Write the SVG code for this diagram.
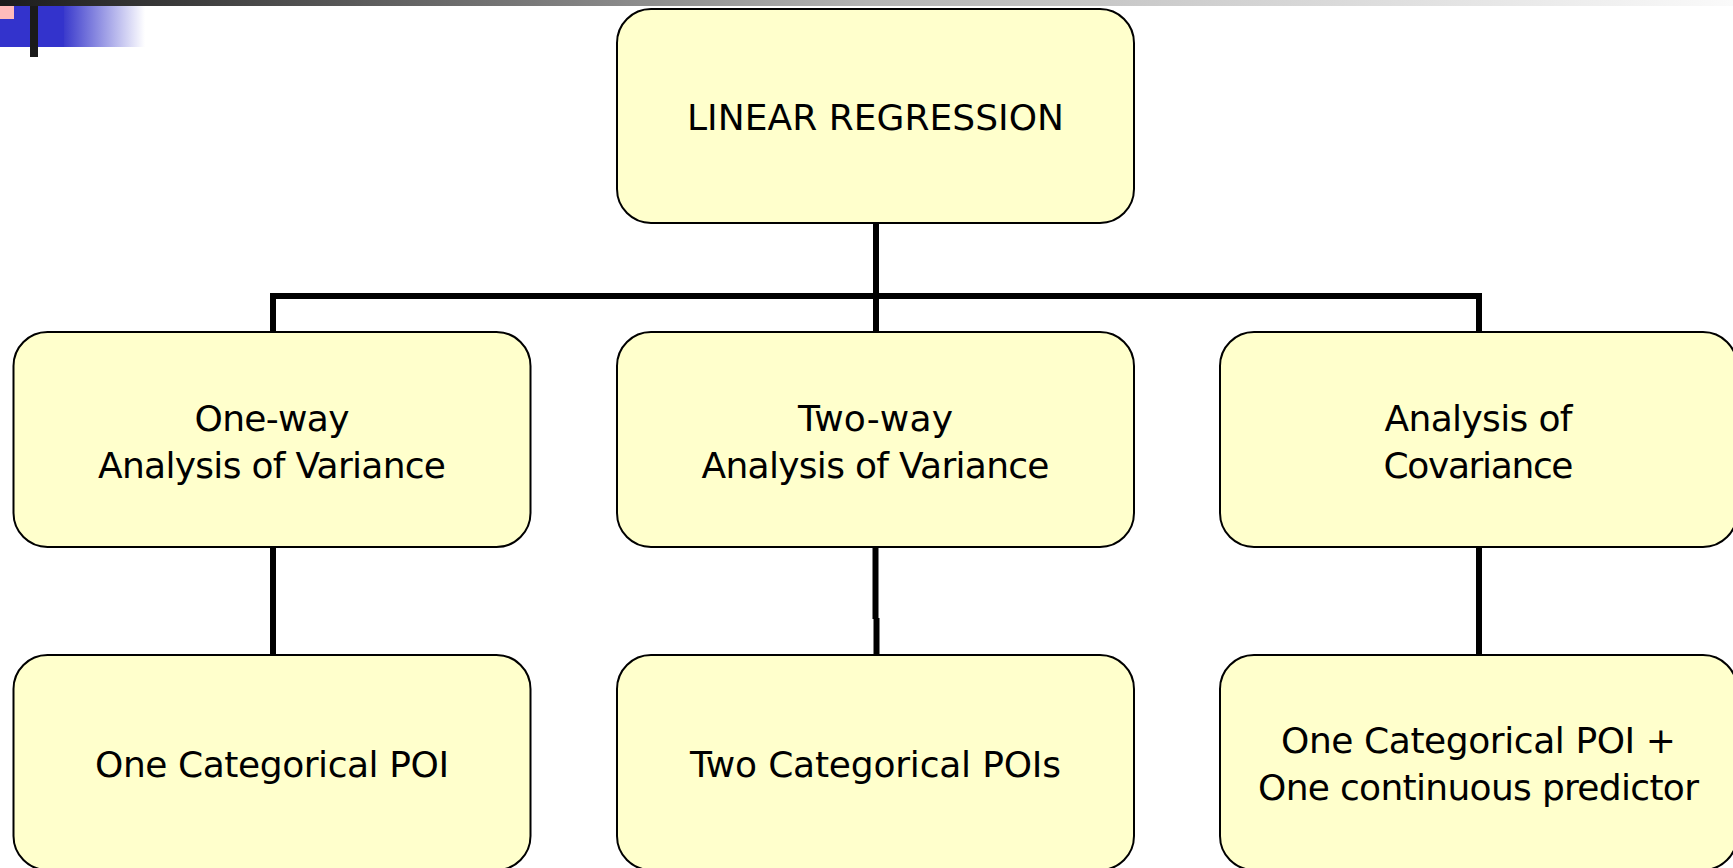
<svg xmlns="http://www.w3.org/2000/svg" width="1733" height="868" viewBox="0 0 1733 868">
  <defs>
    <linearGradient id="topBar" x1="0" y1="0" x2="1" y2="0">
      <stop offset="0" stop-color="#1c1c1c"/>
      <stop offset="0.5" stop-color="#b4b4b4"/>
      <stop offset="1" stop-color="#fafafa"/>
    </linearGradient>
    <linearGradient id="blueFade" x1="0" y1="0" x2="1" y2="0">
      <stop offset="0" stop-color="#3a3acc"/>
      <stop offset="1" stop-color="#ffffff"/>
    </linearGradient>
    <style>
      .box { fill: #ffffcc; stroke: #000; stroke-width: 2; }
      .label { font-family: "DejaVu Sans", Verdana, sans-serif; font-size: 36px; fill: #000; text-anchor: middle; }
      .wire { fill: none; stroke: #000; stroke-width: 6; stroke-linecap: butt; stroke-linejoin: miter; }
    </style>
  </defs>

  <rect width="1733" height="868" fill="#ffffff"/>

  <!-- slide header decoration -->
  <g id="header">
    <rect x="0" y="0" width="1733" height="6" fill="url(#topBar)"/>
    <rect x="0" y="6" width="64" height="41" fill="#3333cc"/>
    <rect x="64" y="6" width="81" height="41" fill="url(#blueFade)"/>
    <rect x="0" y="6" width="14" height="13" fill="#ffbbbb"/>
    <rect x="30" y="6" width="8" height="51" fill="#1a1a1a"/>
  </g>

  <!-- tree connectors -->
  <g id="connectors">
    <path class="wire" d="M876 223 V296"/>
    <path class="wire" d="M273 332 V296 H1479 V332"/>
    <path class="wire" d="M876 296 V332"/>
    <path class="wire" d="M273 547 V655"/>
    <path class="wire" d="M875.5 547 V619"/>
    <path class="wire" d="M876.5 618 V655"/>
    <path class="wire" d="M1479 547 V655"/>
  </g>

  <g id="linear-regression">
    <rect class="box" x="617" y="9" width="517" height="214" rx="34"/>
    <text class="label" x="875.5" y="130" textLength="377">LINEAR REGRESSION</text>
  </g>

  <g id="one-way-anova">
    <rect class="box" x="13.5" y="332" width="517" height="215" rx="34"/>
    <text class="label" x="272" y="431" textLength="155">One-way</text>
    <text class="label" x="272" y="478" textLength="348">Analysis of Variance</text>
  </g>

  <g id="two-way-anova">
    <rect class="box" x="617" y="332" width="517" height="215" rx="34"/>
    <text class="label" x="875.5" y="431" textLength="155">Two-way</text>
    <text class="label" x="875.5" y="478" textLength="348">Analysis of Variance</text>
  </g>

  <g id="ancova">
    <rect class="box" x="1220" y="332" width="517" height="215" rx="34"/>
    <text class="label" x="1478.5" y="431" textLength="188">Analysis of</text>
    <text class="label" x="1478.5" y="478" textLength="190">Covariance</text>
  </g>

  <g id="one-categorical">
    <rect class="box" x="13.5" y="655" width="517" height="215" rx="34"/>
    <text class="label" x="272" y="777" textLength="354">One Categorical POI</text>
  </g>

  <g id="two-categorical">
    <rect class="box" x="617" y="655" width="517" height="215" rx="34"/>
    <text class="label" x="875.5" y="777" textLength="371">Two Categorical POIs</text>
  </g>

  <g id="categorical-plus-continuous">
    <rect class="box" x="1220" y="655" width="517" height="215" rx="34"/>
    <text class="label" x="1478.5" y="753" textLength="395">One Categorical POI +</text>
    <text class="label" x="1478.5" y="800" textLength="441">One continuous predictor</text>
  </g>
</svg>
